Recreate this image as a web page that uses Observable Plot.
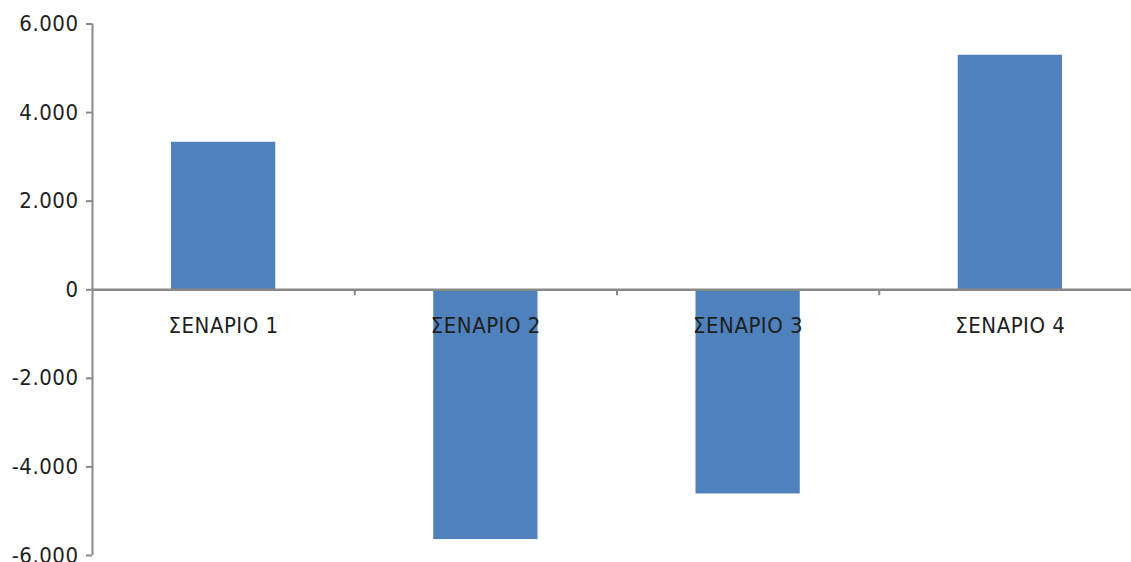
<!DOCTYPE html>
<html>
<head>
<meta charset="utf-8">
<script src="https://cdn.jsdelivr.net/npm/d3@7"></script>
<script src="https://cdn.jsdelivr.net/npm/@observablehq/plot@0.6"></script>
<style>
  html, body { margin: 0; padding: 0; background: #fff; }
  #chart svg text { letter-spacing: 0.5px; }
</style>
</head>
<body>
<div id="chart"></div>
<script>
// Scenario results
const scenarios = ["ΣΕΝΑΡΙΟ 1", "ΣΕΝΑΡΙΟ 2", "ΣΕΝΑΡΙΟ 3", "ΣΕΝΑΡΙΟ 4"];
const values = [3330, -5640, -4610, 5295];
const yTicks = [-6000, -4000, -2000, 0, 2000, 4000, 6000];

const rows = scenarios.map((name, i) => ({ name, i, value: values[i] }));

// Greek-style thousands separator with a plain hyphen for negatives
const fmt = d => (d < 0 ? "-" : "") + d3.format(",")(Math.abs(d)).replace(/,/g, ".");

const axisGray = "#888888";
const textColor = "#1e1e1e";

const chart = Plot.plot({
  width: 1131,
  height: 562,
  marginTop: 23.5,
  marginBottom: 7,
  marginLeft: 92,
  marginRight: 0,
  x: { type: "linear", domain: [0, scenarios.length], range: [92, 1141], axis: null },
  y: { domain: [yTicks[0], yTicks[yTicks.length - 1]], axis: null },
  style: {
    fontFamily: "'DejaVu Sans Condensed', 'DejaVu Sans', sans-serif",
    fontStretch: "condensed",
    fontSize: "22px",
    color: textColor,
    background: "#fff",
    overflow: "visible"
  },
  marks: [
    Plot.rectY(rows, {
      x1: "i",
      x2: d => d.i + 1,
      y1: 0,
      y2: "value",
      fill: "#4f81bd",
      insetLeft: 79,
      insetRight: 79
    }),
    Plot.axisY({
      ticks: yTicks,
      tickFormat: fmt,
      tickSize: 6,
      tickPadding: 8,
      stroke: axisGray,
      strokeWidth: 2,
      fill: textColor,
      label: null
    }),
    Plot.ruleX([0], { y1: yTicks[0], y2: yTicks[yTicks.length - 1], stroke: axisGray, strokeWidth: 2 }),
    Plot.ruleY([0], { stroke: axisGray, strokeWidth: 2.5 }),
    // category boundary ticks below the zero line
    Plot.ruleX(d3.range(1, scenarios.length), { y1: 0, y2: 0, insetBottom: -6, stroke: axisGray, strokeWidth: 2 }),
    Plot.text(rows, {
      x: d => d.i + 0.5,
      y: 0,
      text: "name",
      dy: 28,
      lineAnchor: "top",
      fill: textColor
    })
  ]
});

document.getElementById("chart").appendChild(chart);
</script>
</body>
</html>
